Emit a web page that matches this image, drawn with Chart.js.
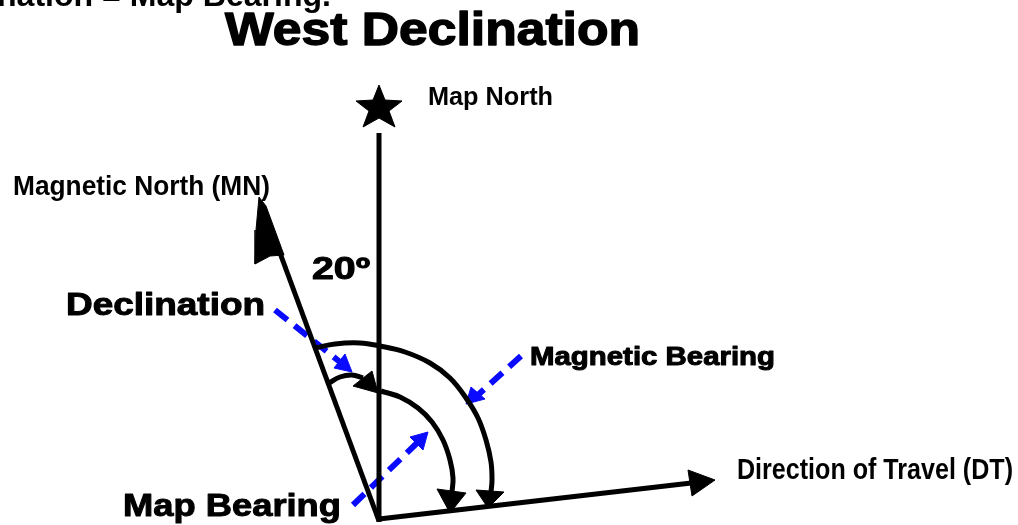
<!DOCTYPE html>
<html lang="en">
<head>
  <meta charset="UTF-8">
  <title>West Declination</title>
  <script src="https://cdn.jsdelivr.net/npm/chart.js@4.4.3/dist/chart.umd.min.js"></script>
  <style>
    html, body { margin: 0; padding: 0; background: #ffffff; overflow: hidden; }
    #diagram { display: block; }
  </style>
</head>
<body>
  <canvas id="diagram" width="1018" height="525"></canvas>

  <script>
    // diagram points, in the picture's own units (x right, y down)
    const mapNorthLine = [[379, 133], [379, 522]];
    const magNorthLine = [[379, 521], [263, 207]];
    const travelLine = [[379, 519], [700, 482]];

    const magBearingArc = [[315, 348], [335, 344], [360, 343], [380, 346], [405, 352], [430, 363],
                           [450, 378], [466, 398], [478, 418], [486, 440], [491, 462], [492, 480], [491, 492]];
    const mapBearingArc = [[381, 391], [400, 397], [418, 408], [432, 422], [443, 440], [450, 460],
                           [453, 478], [452, 492]];
    const declinationArc = [[329, 383], [340, 377], [352, 375], [363, 378]];

    const star = [[379, 85], [385, 100], [402, 101], [389, 111], [395, 127], [379, 118],
                  [363, 127], [369, 111], [356, 101], [373, 100]];
    const magNorthHead = [[259, 197], [256, 230], [255, 264], [270, 256], [284, 255], [266, 206]];
    const travelHead = [[715, 480], [688, 470], [692, 496]];
    const magBearingHead = [[488, 508], [476, 490], [504, 492]];
    const mapBearingHead = [[450, 513], [437, 489], [466, 493]];
    const declinationHead = [[378, 393], [353, 386], [372, 371]];

    // blue dashed pointers
    const declinationPointer = [[275, 310], [340, 362]];
    const magBearingPointer = [[521, 356], [479, 394]];
    const mapBearingPointer = [[353, 505], [418, 442]];
    const declinationTip = [[352, 372], [334, 368], [345, 354]];
    const magBearingTip = [[466, 404], [471, 387], [485, 399]];
    const mapBearingTip = [[428, 432], [410, 437], [423, 450]];

    const labels = [
      { text: 'nation = Map Bearing.', x: -3, y: 6, font: 'bold 32px "Liberation Sans", Arial, sans-serif', width: 334 },
      { text: 'West Declination', x: 225, y: 45, font: 'bold 46px "Liberation Sans", Arial, sans-serif', width: 415, heavy: 1.4 },
      { text: 'Map North', x: 428, y: 105, font: 'bold 25px "Liberation Sans", Arial, sans-serif', width: 125 },
      { text: 'Magnetic North (MN)', x: 13, y: 195, font: 'bold 27px "Liberation Sans", Arial, sans-serif', width: 257 },
      { text: '20º', x: 312, y: 279, font: 'bold 31px "Liberation Sans", Arial, sans-serif', width: 58, heavy: 1 },
      { text: 'Declination', x: 66, y: 315, font: 'bold 31px "Liberation Sans", Arial, sans-serif', width: 199, heavy: 1 },
      { text: 'Magnetic Bearing', x: 530, y: 365, font: 'bold 25px "Liberation Sans", Arial, sans-serif', width: 245, heavy: 1 },
      { text: 'Direction of Travel (DT)', x: 737, y: 479, font: 'bold 30px "Liberation Sans", Arial, sans-serif', width: 276 },
      { text: 'Map Bearing', x: 123, y: 516, font: 'bold 32px "Liberation Sans", Arial, sans-serif', width: 218, heavy: 1 }
    ];

    const BLACK = '#000000';
    const BLUE = '#0a0aff';

    function pts(list) {
      return list.map(p => ({ x: p[0], y: p[1] }));
    }

    function stroke(list, color, width, extra) {
      return Object.assign({
        data: pts(list), showLine: true, pointRadius: 0, borderColor: color,
        borderWidth: width, fill: false, tension: 0, borderCapStyle: 'butt'
      }, extra || {});
    }

    function shape(list, color) {
      const closed = list.concat([list[0]]);
      return {
        data: pts(closed), showLine: true, pointRadius: 0, borderColor: color,
        borderWidth: 1, backgroundColor: color, fill: 'shape', tension: 0
      };
    }

    const textPlugin = {
      id: 'diagramText',
      afterDatasetsDraw(chart) {
        const ctx = chart.ctx;
        const sx = chart.scales.x, sy = chart.scales.y;
        ctx.save();
        ctx.fillStyle = BLACK;
        ctx.strokeStyle = BLACK;
        ctx.textBaseline = 'alphabetic';
        ctx.textAlign = 'left';
        for (const l of labels) {
          ctx.font = l.font;
          const px = sx.getPixelForValue(l.x);
          const py = sy.getPixelForValue(l.y);
          const w = ctx.measureText(l.text).width;
          ctx.save();
          ctx.translate(px, py);
          if (l.width) ctx.scale(l.width / w, 1);
          ctx.fillText(l.text, 0, 0);
          if (l.heavy) {
            ctx.lineWidth = l.heavy;
            ctx.lineJoin = 'round';
            ctx.strokeText(l.text, 0, 0);
          }
          ctx.restore();
        }
        ctx.restore();
      }
    };

    const dash = { borderDash: [16, 9] };

    new Chart(document.getElementById('diagram').getContext('2d'), {
      type: 'scatter',
      data: {
        datasets: [
          stroke(mapNorthLine, BLACK, 5),
          stroke(magNorthLine, BLACK, 5),
          stroke(travelLine, BLACK, 5),
          stroke(magBearingArc, BLACK, 5, { tension: 0.4 }),
          stroke(mapBearingArc, BLACK, 5, { tension: 0.4 }),
          stroke(declinationArc, BLACK, 5, { tension: 0.4 }),
          shape(star, BLACK),
          shape(magNorthHead, BLACK),
          shape(travelHead, BLACK),
          shape(magBearingHead, BLACK),
          shape(mapBearingHead, BLACK),
          shape(declinationHead, BLACK),
          stroke(declinationPointer, BLUE, 6, dash),
          stroke(magBearingPointer, BLUE, 6, dash),
          stroke(mapBearingPointer, BLUE, 6, dash),
          shape(declinationTip, BLUE),
          shape(magBearingTip, BLUE),
          shape(mapBearingTip, BLUE)
        ]
      },
      options: {
        responsive: false,
        animation: false,
        layout: { padding: 0 },
        scales: {
          x: { type: 'linear', min: 0, max: 1018, display: false },
          y: { type: 'linear', min: 0, max: 525, reverse: true, display: false }
        },
        plugins: {
          legend: { display: false },
          tooltip: { enabled: false }
        }
      },
      plugins: [textPlugin]
    });
  </script>
</body>
</html>
